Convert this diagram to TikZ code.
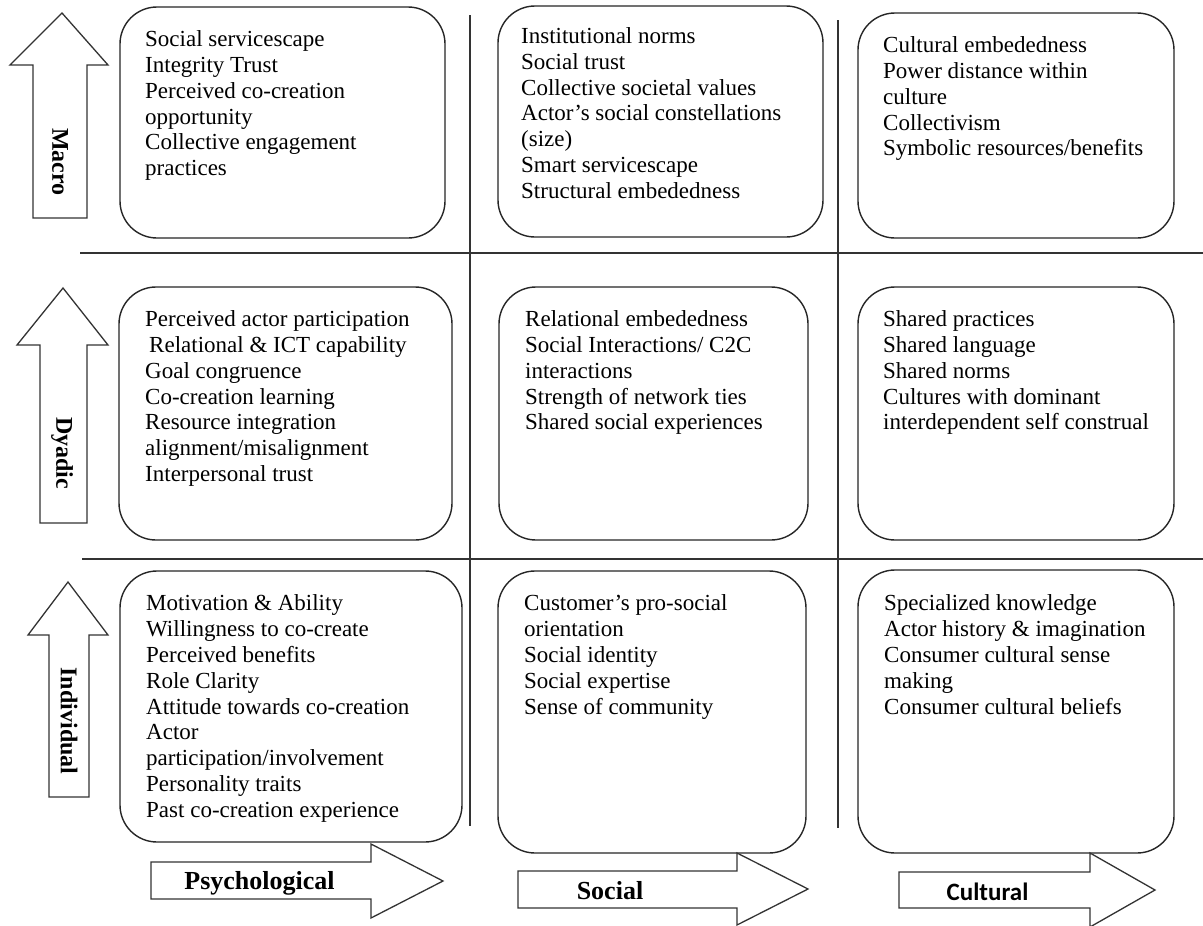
\documentclass[tikz,border=0pt]{standalone}
\usepackage{fontspec}
\setmainfont{Liberation Serif}
\newfontfamily\carlito{Carlito}
\begin{document}
\begin{tikzpicture}[x=1pt,y=-1pt,
  box/.style={draw=black!85, line width=1.4pt, rounded corners=37pt},
  gridline/.style={draw=black!80, line width=1.5pt},
  item/.style={anchor=north west, inner sep=0pt, align=left, font=\fontsize{23}{25.8}\selectfont},
  lvl/.style={draw=black!80, line width=1.3pt, fill=white, line join=miter},
  vlab/.style={rotate=-90, inner sep=0pt, font=\fontsize{24}{24}\selectfont\bfseries},
  hlab/.style={anchor=base, inner sep=0pt, font=\fontsize{26}{26}\selectfont\bfseries}]
\useasboundingbox (0,0) rectangle (1203,926);
\fill[white] (0,0) rectangle (1203,926);

% grid lines
\draw[gridline] (80,253) -- (1203,253);
\draw[gridline] (82,559) -- (1203,559);
\draw[gridline] (470,15) -- (470,826);
\draw[gridline] (838,20) -- (838,828);

% rounded boxes
\draw[box] (120,7) rectangle (445,238);
\draw[box] (498,6) rectangle (823,237);
\draw[box] (858,13) rectangle (1174,238);
\draw[box] (119,287) rectangle (452,540);
\draw[box] (499,287) rectangle (808,540);
\draw[box] (858,287) rectangle (1174,540);
\draw[box] (120,571) rectangle (462,842);
\draw[box] (498,571) rectangle (806,853);
\draw[box] (858,570) rectangle (1174,853);

% texts
\node[item] (t11) at (145,28.5) {\strut Social servicescape\\Integrity Trust\\Perceived co-creation\\opportunity\\Collective engagement\\practices};
\node[item] (t12) at (521,25.3) {\strut Institutional norms\\Social trust\\Collective societal values\\Actor's social constellations\\(size)\\Smart servicescape\\Structural embededness};
\node[item] (t13) at (883,34.5) {\strut Cultural embededness\\Power distance within\\culture\\Collectivism\\Symbolic resources/benefits};
\node[item] (t21) at (145,308.5) {\strut Perceived actor participation\\\hspace{4pt}Relational \& ICT capability\\Goal congruence\\Co-creation learning\\Resource integration\\alignment/misalignment\\Interpersonal trust};
\node[item] (t22) at (525,308.5) {\strut Relational embededness\\Social Interactions/ C2C\\interactions\\Strength of network ties\\Shared social experiences};
\node[item] (t23) at (883,308.5) {\strut Shared practices\\Shared language\\Shared norms\\Cultures with dominant\\interdependent self construal};
\node[item] (t31) at (146,592.7) {\strut Motivation \& Ability\\Willingness to co-create\\Perceived benefits\\Role Clarity\\Attitude towards co-creation\\Actor\\participation/involvement\\Personality traits\\Past co-creation experience};
\node[item] (t32) at (524,592.7) {\strut Customer's pro-social\\orientation\\Social identity\\Social expertise\\Sense of community};
\node[item] (t33) at (884,592.7) {\strut Specialized knowledge\\Actor history \& imagination\\Consumer cultural sense\\making\\Consumer cultural beliefs};

% level arrows (up)
\draw[lvl] (33,218) -- (33,65) -- (10,65) -- (62,13) -- (108,65) -- (87,65) -- (87,218) -- cycle;
\draw[lvl] (40,523) -- (40,345) -- (17,345) -- (63,288) -- (108,345) -- (87,345) -- (87,523) -- cycle;
\draw[lvl] (49,797) -- (49,635) -- (28,635) -- (68,582) -- (108,635) -- (89,635) -- (89,797) -- cycle;
\node[vlab] (macro) at (60,162) {Macro};
\node[vlab] (dyadic) at (62,453) {Dyadic};
\node[vlab] (indiv) at (69,721) {Individual};

% dimension arrows (right)
\draw[lvl] (151,862) -- (371,862) -- (371,844) -- (443,881) -- (371,918) -- (371,899) -- (151,899) -- cycle;
\draw[lvl] (518,871) -- (737,871) -- (737,853) -- (808,889) -- (737,925) -- (737,908) -- (518,908) -- cycle;
\draw[lvl] (899,872) -- (1090,872) -- (1090,853) -- (1155,890) -- (1090,927) -- (1090,908) -- (899,908) -- cycle;
\node[hlab] (psy) at (259.5,889) {Psychological};
\node[hlab] (soc) at (610,899) {Social};
\node[hlab, font=\fontsize{25}{25}\selectfont\carlito\bfseries] (cul) at (987.5,900) {Cultural};
\end{tikzpicture}
\end{document}
